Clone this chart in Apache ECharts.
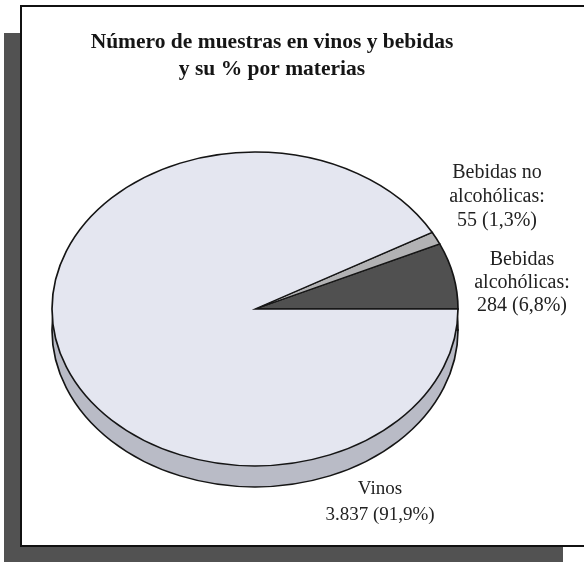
<!DOCTYPE html>
<html>
<head>
<meta charset="utf-8">
<script src="https://cdn.jsdelivr.net/npm/echarts@6/dist/echarts.min.js"></script>
<style>
html,body{margin:0;padding:0;background:#fff;}
#chart{width:584px;height:562px;}
</style>
</head>
<body>
<div id="chart"></div>
<script>
// ---- data ----
const categories = ['Bebidas alcohólicas', 'Bebidas no alcohólicas', 'Vinos'];
const sampleCounts = [284, 55, 3837];
const labelHeads = ['Bebidas\nalcohólicas:', 'Bebidas no\nalcohólicas:', 'Vinos'];
const titleText = 'Número de muestras en vinos y bebidas\ny su % por materias';

// ---- styles / layout ----
const topColors = ['#505050', '#b2b2b4', '#e4e6f0'];
const sideColors = ['#3c3c3c', '#909092', '#b9bbc6'];
const CX = 255, CY = 309, RX = 203, RY = 157, DEPTH = 21;

const total = sampleCounts.reduce((a, b) => a + b, 0);
function fmtInt(n) { return String(n).replace(/\B(?=(\d{3})+(?!\d))/g, '.'); }
function fmtPct(n) { return (n / total * 100).toFixed(1).replace('.', ',') + '%'; }
const labelTexts = sampleCounts.map((v, i) => labelHeads[i] + '\n' + fmtInt(v) + ' (' + fmtPct(v) + ')');

function sliceAngles(i) {
  let cum = 0;
  for (let k = 0; k < i; k++) cum += sampleCounts[k];
  const a0 = cum / total * Math.PI * 2;
  const a1 = (cum + sampleCounts[i]) / total * Math.PI * 2;
  return [a0, a1];
}

function makeRender(offset, colors) {
  return function (params, api) {
    const i = params.dataIndex;
    const [a0, a1] = sliceAngles(i);
    return {
      type: 'group',
      x: CX, y: CY + offset,
      scaleY: RY / RX,
      children: [{
        type: 'sector',
        shape: { cx: 0, cy: 0, r0: 0, r: RX, startAngle: -a1, endAngle: -a0, clockwise: true },
        style: { fill: colors[i], stroke: '#151515', lineWidth: 1.7 }
      }]
    };
  };
}

const chart = echarts.init(document.getElementById('chart'), null, { renderer: 'canvas' });

const labelPos = [
  { x: 522, y: 283, lh: 23 },
  { x: 497, y: 197, lh: 24 },
  { x: 380, y: 502, lh: 26 }
];

chart.setOption({
  animation: false,
  backgroundColor: '#ffffff',
  title: {
    text: titleText,
    left: 272,
    top: 29,
    textAlign: 'center',
    padding: 0,
    textStyle: {
      fontFamily: '"Liberation Serif", "DejaVu Serif", serif',
      fontWeight: 'bold',
      fontSize: 21.5,
      lineHeight: 27,
      color: '#151515'
    }
  },
  graphic: [
    { type: 'rect', z: -20, shape: { x: 4, y: 33, width: 559, height: 529 }, style: { fill: '#525252' } },
    { type: 'rect', z: -19, shape: { x: 21, y: 6, width: 600, height: 540 }, style: { fill: '#ffffff', stroke: '#111', lineWidth: 2 } }
  ].concat(labelTexts.map((t, i) => ({
    type: 'text', z: 100,
    x: labelPos[i].x, y: labelPos[i].y,
    style: {
      text: t,
      align: 'center',
      verticalAlign: 'middle',
      fontFamily: '"Liberation Serif", "DejaVu Serif", serif',
      fontSize: i === 2 ? 19 : 20,
      lineHeight: labelPos[i].lh,
      fill: '#222'
    }
  }))),
  series: [
    {
      type: 'custom', name: 'depth', coordinateSystem: 'none', z: 3,
      data: sampleCounts,
      renderItem: makeRender(DEPTH, sideColors),
      silent: true
    },
    {
      type: 'custom', name: 'muestras', coordinateSystem: 'none', z: 4,
      data: sampleCounts.map((v, i) => ({ name: categories[i], value: v })),
      renderItem: makeRender(0, topColors),
      silent: true
    }
  ]
});
</script>
</body>
</html>
